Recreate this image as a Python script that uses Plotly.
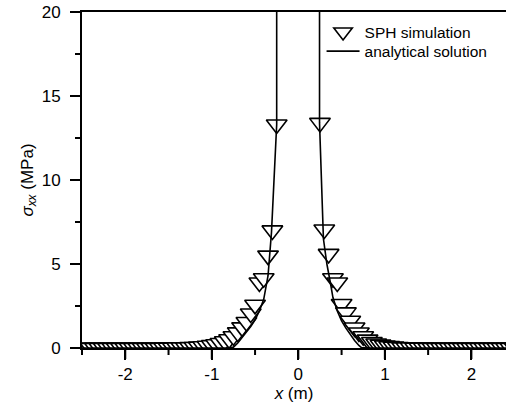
import plotly.graph_objects as go

# SPH simulation (left half and right half of the profile)
sph_x_left = [-2.50, -2.45, -2.40, -2.35, -2.30, -2.25, -2.20, -2.15, -2.10, -2.05,
              -2.00, -1.95, -1.90, -1.85, -1.80, -1.75, -1.70, -1.65, -1.60, -1.55,
              -1.50, -1.45, -1.40, -1.35, -1.30, -1.25, -1.20, -1.15, -1.10, -1.05,
              -1.00, -0.95, -0.90, -0.85, -0.80, -0.75, -0.70, -0.65, -0.60, -0.55,
              -0.50, -0.45, -0.40, -0.35, -0.30, -0.25]
sph_y_left = [0.01, 0.01, 0.01, 0.01, 0.01, 0.01, 0.01, 0.01, 0.01, 0.01,
              0.01, 0.01, 0.01, 0.01, 0.01, 0.01, 0.01, 0.01, 0.01, 0.02,
              0.02, 0.02, 0.03, 0.03, 0.04, 0.05, 0.06, 0.08, 0.10, 0.13,
              0.17, 0.22, 0.30, 0.40, 0.52, 0.70, 0.93, 1.23, 1.55, 2.05,
              2.57, 3.90, 4.15, 5.50, 7.00, 13.30]
sph_x_right = [0.25, 0.30, 0.35, 0.40, 0.45, 0.50, 0.55, 0.60, 0.65, 0.70,
               0.75, 0.80, 0.85, 0.90, 0.95, 1.00, 1.05, 1.10, 1.15, 1.20,
               1.25, 1.30, 1.35, 1.40, 1.45, 1.50, 1.55, 1.60, 1.65, 1.70,
               1.75, 1.80, 1.85, 1.90, 1.95, 2.00, 2.05, 2.10, 2.15, 2.20,
               2.25, 2.30, 2.35, 2.40, 2.45, 2.50]
sph_y_right = [13.40, 7.05, 5.60, 4.15, 3.90, 2.62, 2.12, 1.62, 1.22, 0.92,
               0.70, 0.50, 0.36, 0.27, 0.20, 0.15, 0.11, 0.08, 0.06, 0.04,
               0.03, 0.03, 0.02, 0.02, 0.02, 0.01, 0.01, 0.01, 0.01, 0.01,
               0.01, 0.01, 0.01, 0.01, 0.01, 0.01, 0.01, 0.01, 0.01, 0.01,
               0.01, 0.01, 0.01, 0.01, 0.01, 0.01]

# analytical solution
ana_x_left = [-2.50, -2.00, -1.50, -1.00, -0.80, -0.75, -0.70, -0.65, -0.60, -0.55,
              -0.50, -0.45, -0.40, -0.35, -0.31, -0.25, -0.25]
ana_y_left = [0.0, 0.0, 0.0, 0.0, 0.0, 0.05, 0.30, 0.62, 0.92, 1.28,
              1.68, 2.20, 2.90, 4.30, 6.90, 13.30, 30.0]
ana_x_right = [0.245, 0.245, 0.29, 0.33, 0.37, 0.40, 0.45, 0.50, 0.55, 0.60,
               0.65, 0.70, 0.73, 0.80, 1.00, 1.50, 2.00, 2.50]
ana_y_right = [30.0, 13.40, 6.50, 5.00, 3.90, 3.00, 2.20, 1.62, 1.18, 0.80,
               0.45, 0.15, 0.02, 0.0, 0.0, 0.0, 0.0, 0.0]

# ticks
x_ticks = [-2, -1, 0, 1, 2]
x_ticktext = ["-2", "-1", "0", "1", "2"]
x_minor = [-2.5, -1.5, -0.5, 0.5, 1.5]
y_ticks = [0, 5, 10, 15, 20]
y_ticktext = ["0", "5", "10", "15", "20"]
y_minor = [2.5, 7.5, 12.5, 17.5]

X_RANGE = [-2.5, 2.40]
Y_RANGE = [0, 20]
W, H = 506, 412
M = dict(l=82, r=0, t=12, b=64)
PLOT_W = W - M["l"] - M["r"]
PLOT_H = H - M["t"] - M["b"]
MAJOR_LEN, MINOR_LEN = 10, 6

FONT = "Liberation Sans, Arial, sans-serif"

fig = go.Figure()
fig.add_trace(go.Scatter(
    x=sph_x_left + [None] + sph_x_right,
    y=sph_y_left + [None] + sph_y_right,
    mode="markers", name="SPH simulation", legend="legend",
    marker=dict(symbol="triangle-down", size=18, color="white",
                line=dict(color="black", width=1.6)),
))
fig.add_trace(go.Scatter(
    x=ana_x_left + [None] + ana_x_right,
    y=ana_y_left + [None] + ana_y_right,
    mode="lines", name="analytical solution", legend="legend2",
    line=dict(color="black", width=1.6),
    connectgaps=False,
))

fig.update_xaxes(
    range=X_RANGE, mirror=True,
    showline=True, linecolor="black", linewidth=2,
    showgrid=False, zeroline=False,
    tickmode="array", tickvals=x_ticks, ticktext=x_ticktext,
    ticks="outside", ticklen=MAJOR_LEN, tickwidth=2, tickcolor="rgb(0,0,0)",
    tickfont=dict(family=FONT, size=17, color="black"),
    title=dict(text="<i>x</i> (m)", font=dict(family=FONT, size=17, color="black"), standoff=3),
)
fig.update_yaxes(
    range=Y_RANGE, mirror=False,
    showline=True, linecolor="black", linewidth=2,
    showgrid=False, zeroline=False,
    tickmode="array", tickvals=y_ticks, ticktext=y_ticktext,
    ticks="outside", ticklen=MAJOR_LEN, tickwidth=2, tickcolor="rgb(0,0,0)",
    ticklabelstandoff=6,
    tickfont=dict(family=FONT, size=17, color="black"),
    title=dict(text="<i>σ</i><sub><i>xx</i></sub> (MPa)", font=dict(family=FONT, size=17, color="black"), standoff=4),
)

# tick marks also drawn explicitly (paper coordinates derived from the tick arrays)
def xfrac(v):
    return (v - X_RANGE[0]) / (X_RANGE[1] - X_RANGE[0])

def yfrac(v):
    return (v - Y_RANGE[0]) / (Y_RANGE[1] - Y_RANGE[0])

tick_line = dict(color="black", width=2)
for vals, length in ((x_ticks, MAJOR_LEN), (x_minor, MINOR_LEN)):
    for v in vals:
        f = xfrac(v)
        if 0 <= f <= 1:
            fig.add_shape(type="line", xref="paper", yref="paper",
                          x0=f, x1=f, y0=-1.0 / PLOT_H, y1=-(1.0 + length) / PLOT_H,
                          line=tick_line, layer="above")
for vals, length in ((y_ticks, MAJOR_LEN), (y_minor, MINOR_LEN)):
    for v in vals:
        f = yfrac(v)
        fig.add_shape(type="line", xref="paper", yref="paper",
                      y0=f, y1=f, x0=-1.0 / PLOT_W, x1=-(1.0 + length) / PLOT_W,
                      line=tick_line, layer="above")

fig.update_layout(
    width=W, height=H,
    margin=M,
    paper_bgcolor="white", plot_bgcolor="white",
    showlegend=True,
    legend=dict(x=0.565, y=0.99, xanchor="left", yanchor="top",
                bgcolor="rgba(0,0,0,0)", font=dict(family=FONT, size=15.5, color="black"),
                itemwidth=33),
    legend2=dict(x=0.565, y=0.933, xanchor="left", yanchor="top",
                 bgcolor="rgba(0,0,0,0)", font=dict(family=FONT, size=15.5, color="black"),
                 itemwidth=33),
    font=dict(family=FONT, color="black"),
)

fig.write_html("out.html")
